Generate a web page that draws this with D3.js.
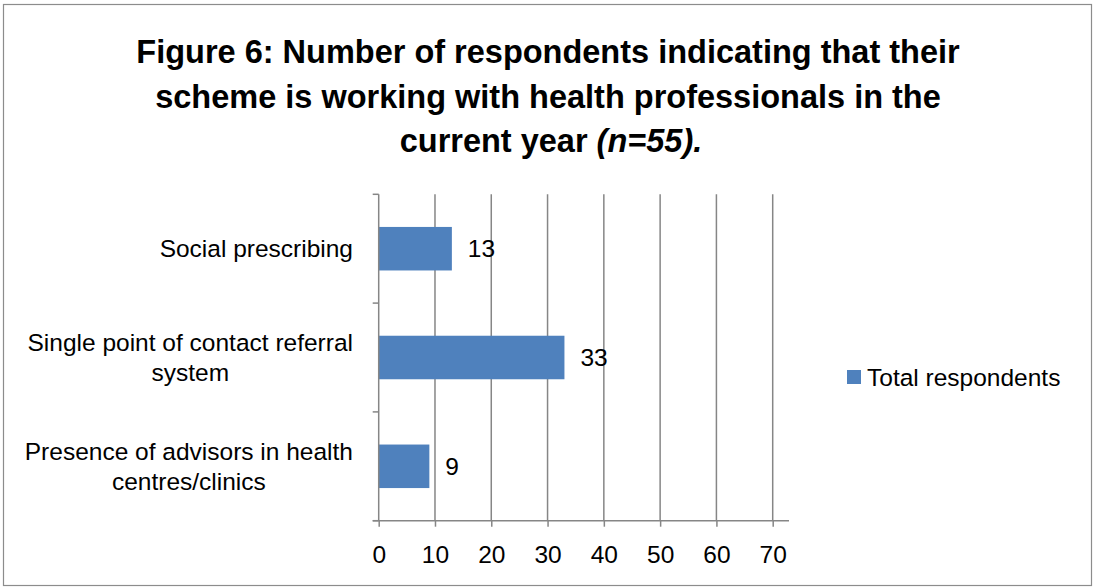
<!DOCTYPE html>
<html><head><meta charset="utf-8">
<script src="https://cdn.jsdelivr.net/npm/d3@7"></script>
<style>
html,body{margin:0;padding:0;background:#fff;}
svg{display:block;}
text{font-family:"Liberation Sans",Arial,sans-serif;}
</style></head>
<body><svg id="chart" width="1095" height="587"></svg>
<script>
const categories = [
  ["Social prescribing"],
  ["Single point of contact referral", "system"],
  ["Presence of advisors in health", "centres/clinics"]
];
const values = [13, 33, 9];
const xTicks = [0, 10, 20, 30, 40, 50, 60, 70];
const seriesName = "Total respondents";
const titleLines = ["Figure 6: Number of respondents indicating that their", "scheme is working with health professionals in the"];
const titleLast = ["current year ", "(n=55)."];

const svg = d3.select("#chart");
const W = 1095, H = 587;
const fill = "#4F81BD", grid = "#868686";
const fs = 24.5;

svg.append("rect").attr("x", 3.5).attr("y", 4.5).attr("width", W - 7).attr("height", H - 6)
  .attr("fill", "#fff").attr("stroke", "#8c8c8c").attr("stroke-width", 1.2);

// title
const tg = svg.append("g").attr("font-weight", "bold").attr("font-size", 32.5).attr("text-anchor", "middle").attr("fill", "#000");
titleLines.forEach((t, i) => tg.append("text").attr("x", 548).attr("y", 63 + i * 45).text(t));
const last = tg.append("text").attr("x", 551).attr("y", 152);
last.append("tspan").text(titleLast[0]);
last.append("tspan").attr("font-style", "italic").text(titleLast[1]);

const pL = 378.7, pR = 772.7, pT = 194.3, pB = 520.7;
const x = d3.scaleLinear().domain([0, 70]).range([pL, pR]);
const idx = categories.map((d, i) => i);
const y = d3.scaleBand().domain(idx).range([pT, pB]).paddingInner(0.6).paddingOuter(0.3);

// gridlines
svg.append("g").selectAll("line").data(xTicks.slice(1)).join("line")
  .attr("x1", d => x(d)).attr("x2", d => x(d)).attr("y1", pT).attr("y2", pB)
  .attr("stroke", grid).attr("stroke-width", 1.5);

// bars
svg.append("g").selectAll("rect").data(values).join("rect")
  .attr("x", x(0)).attr("y", (d, i) => y(i)).attr("width", d => x(d) - x(0)).attr("height", y.bandwidth())
  .attr("fill", fill);

// value labels
svg.append("g").selectAll("text").data(values).join("text")
  .attr("x", d => x(d) + 16).attr("y", (d, i) => y(i) + y.bandwidth() / 2).attr("dy", "0.35em")
  .attr("font-size", fs).attr("fill", "#000").text(d => d);

// x axis
const xAxis = d3.axisBottom(x).tickValues(xTicks).tickSize(6).tickPadding(19);
const gx = svg.append("g").attr("transform", `translate(0,${pB})`).call(xAxis);
gx.select(".domain").remove();
gx.append("line").attr("x1", pL - 6).attr("x2", 789).attr("y1", 0).attr("y2", 0).attr("stroke", grid).attr("stroke-width", 1.5);
gx.selectAll(".tick line").attr("stroke", grid).attr("stroke-width", 1.5);
gx.selectAll(".tick text").attr("font-size", fs).attr("fill", "#000").attr("font-family", null);

// y axis line and category ticks
const yStep = (pB - pT) / categories.length;
svg.append("line").attr("x1", pL).attr("x2", pL).attr("y1", pT).attr("y2", pB).attr("stroke", grid).attr("stroke-width", 1.5);
svg.append("g").selectAll("line").data(d3.range(categories.length + 1)).join("line")
  .attr("x1", pL - 6).attr("x2", pL).attr("y1", d => pT + d * yStep).attr("y2", d => pT + d * yStep)
  .attr("stroke", grid).attr("stroke-width", 1.5);

// category labels
const cg = svg.append("g").attr("font-size", fs).attr("fill", "#000");
categories.forEach((lines, i) => {
  const cy = y(i) + y.bandwidth() / 2;
  const t = cg.append("text").attr("text-anchor", "middle");
  lines.forEach(l => t.append("tspan").text(l));
  const tmp = cg.append("text");
  let maxW = 0;
  lines.forEach(l => { tmp.text(l); maxW = Math.max(maxW, tmp.node().getComputedTextLength()); });
  tmp.remove();
  const cx = 353 - maxW / 2;
  const lh = 30;
  t.selectAll("tspan").attr("x", cx).attr("y", (d, j) => cy + (j - (lines.length - 1) / 2) * lh).attr("dy", "0.35em");
});

// legend
svg.append("rect").attr("x", 847).attr("y", 370).attr("width", 14).attr("height", 14).attr("fill", fill);
svg.append("text").attr("x", 867).attr("y", 377).attr("dy", "0.35em").attr("font-size", fs).attr("fill", "#000").text(seriesName);
</script></body></html>
